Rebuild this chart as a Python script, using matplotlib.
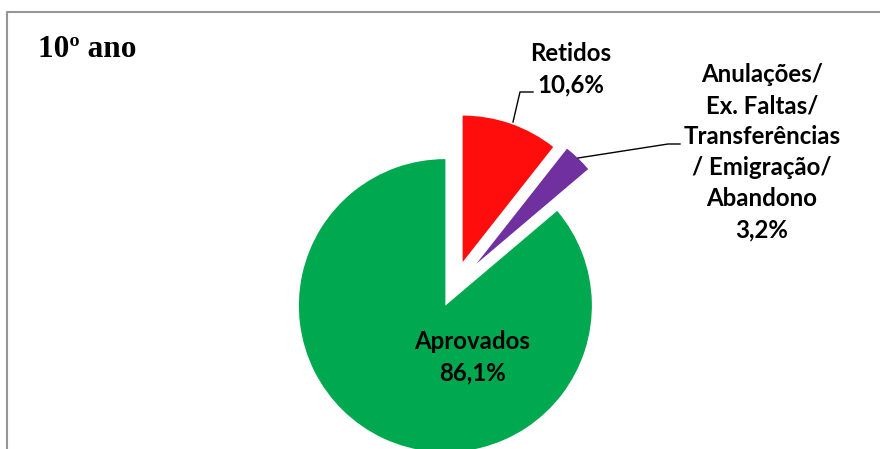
import matplotlib.pyplot as plt

# slices in Excel order (clockwise from 12 o'clock)
categories = ['Retidos', 'Anulações/\nEx. Faltas/\nTransferências\n/ Emigração/\nAbandono', 'Aprovados']
percent = [10.6, 3.2, 86.1]
pct_labels = ['10,6%', '3,2%', '86,1%']
colors = ['#FF0D0D', '#7030A0', '#00A84F']
explode = [0.18, 0.22, 0.14]   # fraction of radius

W, H = 880, 449
fig = plt.figure(figsize=(W / 100, H / 100), dpi=100)
ax = fig.add_axes([0, 0, 1, 1])

# pie center/radius in pixel units (y measured upward)
cx, cy, r = 454, H - 287, 146.5
ax.pie(percent, colors=colors, explode=[e * r for e in explode], startangle=90,
       counterclock=False, center=(cx, cy), radius=r, frame=True)
ax.set_xlim(0, W)
ax.set_ylim(0, H)
ax.axis('off')

# chart border (only top/left visible in the reference)
ax.plot([7, 7, W + 5], [-5, H - 12, H - 12], color='#969696', lw=1.5, clip_on=False)

ax.text(38, H - 57, '10º ano', family='Liberation Serif', weight='bold', fontsize=22.5,
        ha='left', va='baseline')

lbl = dict(family='Lato', weight='bold', fontsize=17.3, ha='center', va='center', linespacing=1.42)
ax.text(571, H - 69, categories[0] + '\n' + pct_labels[0], **lbl)
ax.text(762, H - 152, categories[1] + '\n' + pct_labels[1], **lbl)
ax.text(472, H - 357, categories[2] + '\n' + pct_labels[2], **lbl)

# leader lines
ax.plot([513, 520, 533], [H - 122, H - 92, H - 92], color='black', lw=1)
ax.plot([578, 668, 680], [H - 158, H - 144, H - 144], color='black', lw=1)

fig.savefig('out.png', dpi=100)
